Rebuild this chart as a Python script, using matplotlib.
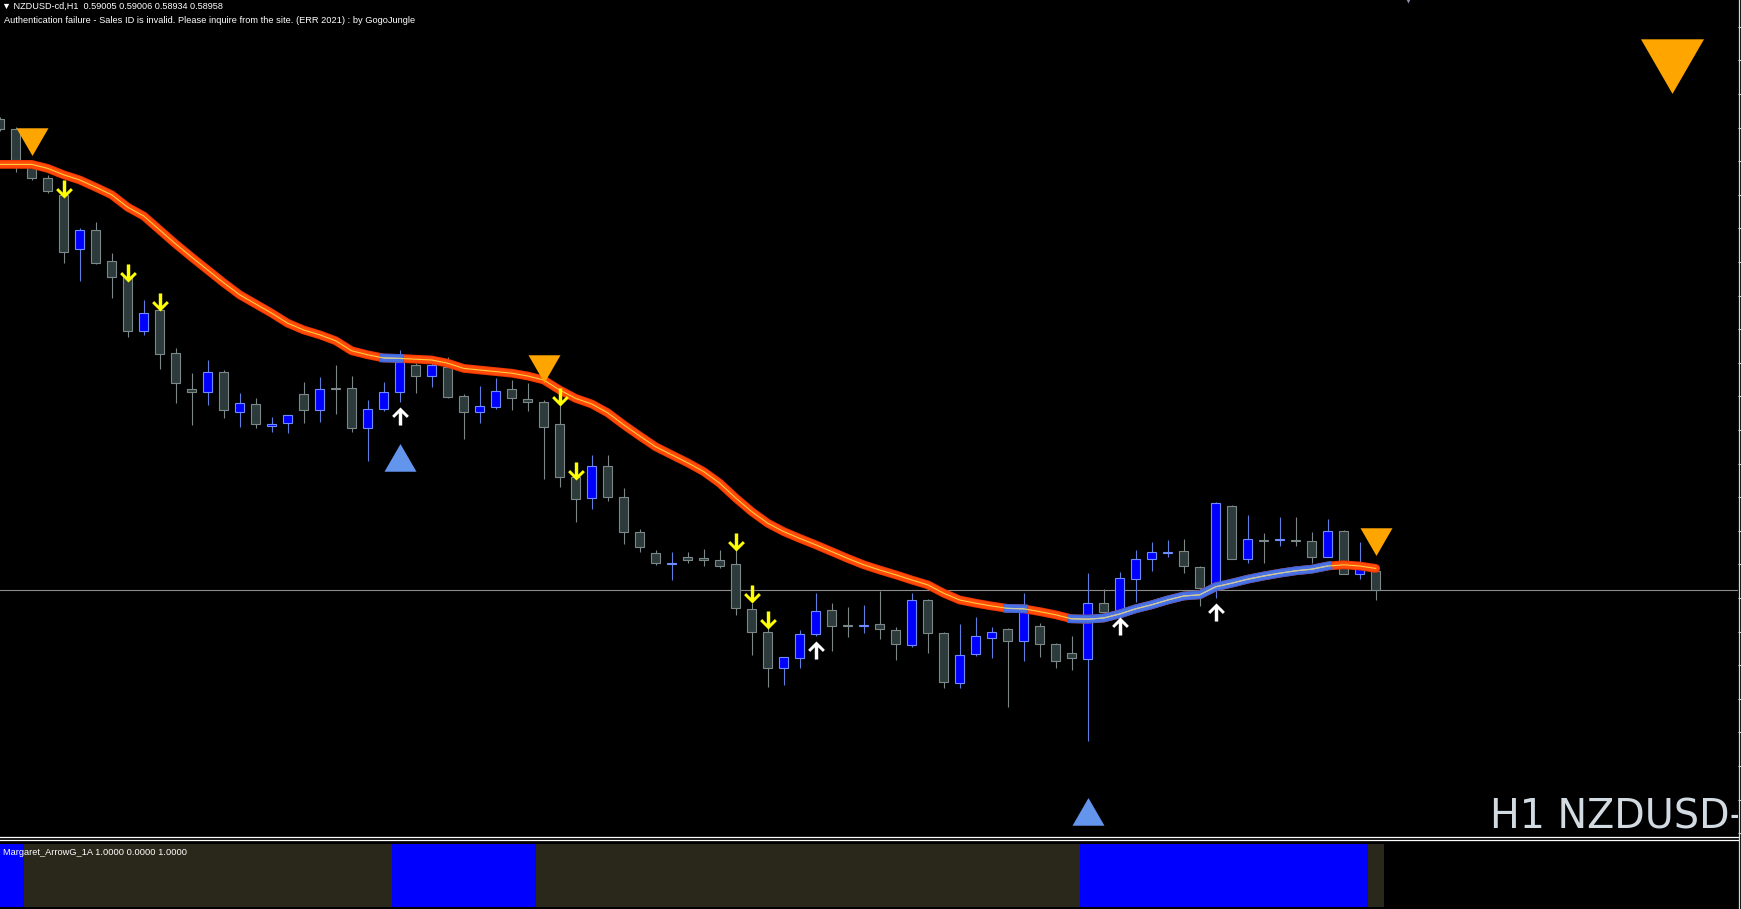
import numpy as np
import matplotlib
matplotlib.use("Agg")
import matplotlib.pyplot as plt

# NZDUSD H1 bars, first one is cut by the left edge, last one is the live bar
opens = [0.60135, 0.60110, 0.60015, 0.59988, 0.59945, 0.59810, 0.59858, 0.59780, 0.59740, 0.59605,
         0.59658, 0.59550, 0.59460, 0.59453, 0.59503, 0.59403, 0.59423, 0.59368, 0.59375, 0.59448,
         0.59408, 0.59463, 0.59463, 0.59363, 0.59410, 0.59453, 0.59520, 0.59493, 0.59515, 0.59443,
         0.59403, 0.59415, 0.59460, 0.59435, 0.59428, 0.59373, 0.59240, 0.59188, 0.59268, 0.59190,
         0.59103, 0.59050, 0.59023, 0.59040, 0.59038, 0.59033, 0.59023, 0.58910, 0.58853, 0.58763,
         0.58788, 0.58848, 0.58908, 0.58870, 0.58868, 0.58873, 0.58858, 0.58820, 0.58933, 0.58850,
         0.58725, 0.58798, 0.58838, 0.58860, 0.58830, 0.58868, 0.58823, 0.58800, 0.58785, 0.58925,
         0.58908, 0.58985, 0.59035, 0.59050, 0.59055, 0.59015, 0.58970, 0.59168, 0.59035, 0.59083,
         0.59083, 0.59083, 0.59080, 0.59040, 0.59105, 0.58998, 0.59005]
highs = [0.60140, 0.60115, 0.60023, 0.59995, 0.59953, 0.59863, 0.59878, 0.59800, 0.59758, 0.59683,
         0.59670, 0.59563, 0.59500, 0.59533, 0.59508, 0.59450, 0.59438, 0.59390, 0.59395, 0.59478,
         0.59490, 0.59520, 0.59493, 0.59433, 0.59478, 0.59558, 0.59525, 0.59525, 0.59540, 0.59448,
         0.59468, 0.59488, 0.59483, 0.59475, 0.59433, 0.59420, 0.59245, 0.59295, 0.59295, 0.59213,
         0.59110, 0.59058, 0.59053, 0.59053, 0.59060, 0.59058, 0.59058, 0.58925, 0.58863, 0.58790,
         0.58858, 0.58950, 0.58925, 0.58915, 0.58920, 0.58955, 0.58865, 0.58950, 0.58935, 0.58853,
         0.58873, 0.58890, 0.58865, 0.58863, 0.58950, 0.58875, 0.58825, 0.58843, 0.59000, 0.58960,
         0.59003, 0.59058, 0.59078, 0.59083, 0.59085, 0.59018, 0.59178, 0.59170, 0.59145, 0.59100,
         0.59140, 0.59140, 0.59103, 0.59135, 0.59108, 0.59078, 0.59006]
lows = [0.60105, 0.60003, 0.59983, 0.59950, 0.59775, 0.59730, 0.59773, 0.59688, 0.59590, 0.59595,
        0.59510, 0.59425, 0.59370, 0.59420, 0.59388, 0.59365, 0.59363, 0.59353, 0.59350, 0.59375,
        0.59378, 0.59398, 0.59353, 0.59280, 0.59405, 0.59428, 0.59450, 0.59465, 0.59438, 0.59335,
        0.59375, 0.59410, 0.59408, 0.59405, 0.59235, 0.59215, 0.59128, 0.59160, 0.59180, 0.59073,
        0.59053, 0.59020, 0.58983, 0.59025, 0.59018, 0.59013, 0.58895, 0.58795, 0.58715, 0.58720,
        0.58763, 0.58843, 0.58805, 0.58840, 0.58850, 0.58835, 0.58783, 0.58815, 0.58800, 0.58713,
        0.58713, 0.58793, 0.58788, 0.58665, 0.58780, 0.58790, 0.58763, 0.58758, 0.58580, 0.58903,
        0.58903, 0.58928, 0.59005, 0.59040, 0.59000, 0.58918, 0.58938, 0.59035, 0.59025, 0.59025,
        0.59068, 0.59068, 0.59025, 0.59040, 0.58998, 0.58985, 0.58934]
closes = [0.60110, 0.60033, 0.59988, 0.59955, 0.59803, 0.59858, 0.59775, 0.59740, 0.59605, 0.59650,
          0.59548, 0.59475, 0.59453, 0.59503, 0.59408, 0.59425, 0.59373, 0.59373, 0.59395, 0.59408,
          0.59460, 0.59460, 0.59363, 0.59410, 0.59453, 0.59528, 0.59493, 0.59520, 0.59440, 0.59403,
          0.59418, 0.59455, 0.59438, 0.59428, 0.59365, 0.59240, 0.59185, 0.59268, 0.59190, 0.59103,
          0.59065, 0.59025, 0.59025, 0.59033, 0.59033, 0.59018, 0.58913, 0.58853, 0.58763, 0.58790,
          0.58848, 0.58905, 0.58868, 0.58868, 0.58870, 0.58860, 0.58823, 0.58933, 0.58850, 0.58728,
          0.58795, 0.58843, 0.58853, 0.58830, 0.58915, 0.58823, 0.58780, 0.58788, 0.58925, 0.58903,
          0.58988, 0.59035, 0.59053, 0.59053, 0.59018, 0.58963, 0.59175, 0.59035, 0.59085, 0.59080,
          0.59085, 0.59080, 0.59040, 0.59105, 0.58998, 0.59013, 0.58958]

# moving average line (one value per bar)
ma = [0.60022, 0.60022, 0.60022, 0.60012, 0.59996, 0.59983, 0.59965, 0.59946, 0.59915, 0.59893,
      0.59858, 0.59823, 0.59790, 0.59758, 0.59726, 0.59696, 0.59673, 0.59650, 0.59625, 0.59608,
      0.59596, 0.59581, 0.59556, 0.59546, 0.59538, 0.59537, 0.59535, 0.59533, 0.59525, 0.59512,
      0.59508, 0.59504, 0.59500, 0.59493, 0.59483, 0.59458, 0.59437, 0.59423, 0.59401, 0.59371,
      0.59343, 0.59316, 0.59296, 0.59276, 0.59254, 0.59225, 0.59188, 0.59154, 0.59125, 0.59104,
      0.59087, 0.59071, 0.59054, 0.59037, 0.59021, 0.59008, 0.58996, 0.58983, 0.58971, 0.58950,
      0.58933, 0.58925, 0.58918, 0.58912, 0.58911, 0.58904, 0.58896, 0.58886, 0.58885, 0.58888,
      0.58898, 0.58911, 0.58921, 0.58933, 0.58943, 0.58946, 0.58966, 0.58975, 0.58985, 0.58993,
      0.59000, 0.59006, 0.59010, 0.59018, 0.59021, 0.59018, 0.59012]
ma_up_ranges = [(23, 24), (62, 63), (66, 82)]   # bar numbers where the MA is painted blue

bid = 0.58958

# signals (bar number, price)
sell_tri_x = [1, 33, 85]
sell_tri_y = [0.60090, 0.59522, 0.59090]
big_sell_x, big_sell_y = 103.5, 0.60290
buy_tri_x = [24, 67]
buy_tri_y = [0.59279, 0.58394]
down_arrow_x = [3, 7, 9, 34, 35, 45, 46, 47]
down_arrow_y = [0.59961, 0.59751, 0.59678, 0.59441, 0.59256, 0.59077, 0.58948, 0.58882]
up_arrow_x = [24, 50, 69, 75]
up_arrow_y = [0.59392, 0.58807, 0.58868, 0.58902]

# Margaret_ArrowG_1A histogram: (number of bars, 1 = blue)
margaret_runs = [(2, 1), (23, 0), (9, 1), (34, 0), (18, 1), (1, 0)]

W, H = 1741, 909
fig = plt.figure(figsize=(W / 100, H / 100), dpi=100, facecolor="black")

x_left, x_right = -15.7 / 16, (1738 - 15.7) / 16
ax = fig.add_axes([0, (H - 837) / H, 1738 / W, 837 / H])
ax.set_facecolor("black")
ax.set_xlim(x_left, x_right)
ax.set_ylim(0.583405, 0.60433)
for s in ax.spines.values():
    s.set_visible(False)
ax.set_xticks([])
ax.yaxis.tick_right()
ax.set_yticks(np.arange(0.60366, 0.5834, -0.00084))
ax.tick_params(axis="y", colors="#d0d0d0", length=4, width=0.8, labelright=False)

pos = np.arange(-1, len(opens) - 1)
o = np.array(opens); c = np.array(closes); hi = np.array(highs); lo = np.array(lows)
up = c >= o
px = 0.000025  # one pixel in price

# wicks
ax.vlines(pos[up], lo[up], hi[up], color="#5f7fe0", lw=0.8, zorder=2)
ax.vlines(pos[~up], lo[~up], hi[~up], color="#7c8888", lw=0.8, zorder=2)
# bodies
body_bot = np.minimum(o, c)
body_h = np.maximum(np.abs(c - o), px)
ax.bar(pos[up], body_h[up], bottom=body_bot[up], width=0.58, color="#0000ff",
       edgecolor="#6d8cff", linewidth=0.8, zorder=2.2)
ax.bar(pos[~up], body_h[~up], bottom=body_bot[~up], width=0.58, color="#2c3a3c",
       edgecolor="#7c8888", linewidth=0.8, zorder=2.2)

ax.axhline(bid, color="#8c8c8c", lw=0.8, zorder=1.5)

# moving average
ma = np.array(ma)
ax.plot(pos, ma, color="#f03800", lw=6.3, solid_capstyle="round", zorder=3)
ax.plot(pos, ma, color="#ff4a0a", lw=4.8, solid_capstyle="round", zorder=3.1)
ax.plot(pos, ma, color="#ffd040", lw=0.8, zorder=3.3)
for a, b in ma_up_ranges:
    sl = slice(a + 1, b + 2)
    ax.plot(pos[sl], ma[sl], color="#3f64d8", lw=6.3, solid_capstyle="projecting", zorder=3.15)
    ax.plot(pos[sl], ma[sl], color="#4a72e4", lw=4.8, solid_capstyle="projecting", zorder=3.2)
    ax.plot(pos[sl], ma[sl], color="#c8c8b0", lw=0.8, zorder=3.35)

# triangles
ax.plot(sell_tri_x, sell_tri_y, ls="none", marker=(3, 0, 180), ms=26.6, color="#ffa500",
        mec="none", zorder=4)
ax.plot([big_sell_x], [big_sell_y], ls="none", marker=(3, 0, 180), ms=52.4, color="#ffa500",
        mec="none", zorder=4)
ax.plot(buy_tri_x, buy_tri_y, ls="none", marker=(3, 0, 0), ms=26.6, color="#6495ed",
        mec="none", zorder=4)
ax.plot([87], [0.60433 + 2 * px], ls="none", marker="v", ms=7, color="#8890a0", mec="none",
        zorder=4, clip_on=True)

# small arrows
arrow_dn = [(-0.19, 1.0), (0.19, 1.0), (0.19, -0.35), (0.70, 0.16), (0.93, -0.07), (0.0, -1.0),
            (-0.93, -0.07), (-0.70, 0.16), (-0.19, -0.35), (-0.19, 1.0)]
arrow_up = [(x, -y) for x, y in arrow_dn]
ax.plot(down_arrow_x, down_arrow_y, ls="none", marker=arrow_dn, ms=13, color="#ffff00",
        mec="none", zorder=5)
ax.plot(up_arrow_x, up_arrow_y, ls="none", marker=arrow_up, ms=13, color="#ffffff",
        mec="none", zorder=5)

ax.text(1490 / 1738, 1 - 828 / 837, "H1 NZDUSD-cd", transform=ax.transAxes, color="#d2dae2",
        fontsize=28.5, family="DejaVu Sans", va="baseline", ha="left", clip_on=True)

# indicator sub-window
ax2 = fig.add_axes([0, 0, 1738 / W, 68 / H])
ax2.set_facecolor("black")
ax2.set_xlim(x_left, x_right)
ax2.set_ylim(-0.032, 1.048)
ax2.axis("off")
states = []
for n, v in margaret_runs:
    states += [v] * n
cols = ["#0000ff" if v else "#29281a" for v in states]
ax2.bar(pos, np.ones(len(pos)), width=1.0, color=cols, linewidth=0)

# window separators and price-scale border
fig.add_artist(plt.Line2D([0, 1738 / W], [1 - 837.3 / H] * 2, color="white", lw=0.9))
fig.add_artist(plt.Line2D([0, 1738 / W], [1 - 839.6 / H] * 2, color="white", lw=0.9))
fig.add_artist(plt.Line2D([1738.5 / W] * 2, [0, 1], color="#d8d8d8", lw=0.9))

fonts = ["Liberation Sans", "DejaVu Sans"]
t1 = fig.text(2 / W, 1 - 9.3 / H, "▼ NZDUSD-cd,H1  0.59005 0.59006 0.58934 0.58958",
              color="white", fontsize=6, family=fonts, va="baseline")
t2 = fig.text(4 / W, 1 - 22.8 / H, "Authentication failure - Sales ID is invalid. Please inquire "
              "from the site. (ERR 2021) : by GogoJungle", color="white", fontsize=6,
              family=fonts, va="baseline")
t3 = fig.text(3 / W, 1 - 855 / H, "Margaret_ArrowG_1A 1.0000 0.0000 1.0000", color="white",
              fontsize=6, family=fonts, va="baseline")

fig.canvas.draw()
r = fig.canvas.get_renderer()
for t, target in [(t1, 225), (t2, 412), (t3, 185)]:
    w = t.get_window_extent(r).width
    t.set_fontsize(t.get_fontsize() * target / w)

fig.savefig("out.png", dpi=100, facecolor="black")
